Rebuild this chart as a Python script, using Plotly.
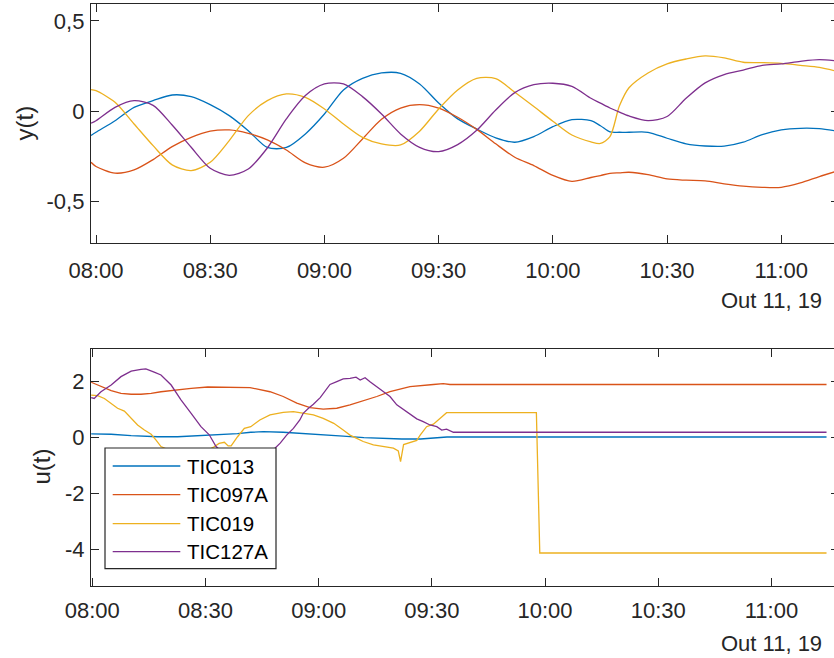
import datetime as dt
import plotly.graph_objects as go

T0 = dt.datetime(2019, 10, 11, 8, 0)

NAMES = ["TIC013", "TIC097A", "TIC019", "TIC127A"]
COLORS = ["#0072BD", "#D95319", "#EDB120", "#7E2F8E"]

# ---- outputs y(t): minutes after 08:00 and the four controlled temperatures
t_y = [-1.3, 0, 5, 10, 15, 20, 25, 30, 35, 40, 45, 50, 55, 60, 65, 70, 75, 80,
       85, 90, 95, 100, 105, 110, 115, 120, 125, 130, 132.5, 135, 137.5, 140,
       145, 150, 155, 160, 165, 170, 175, 180, 185, 190, 194.6]
y_tic013 = [-0.134, -0.116, -0.052, 0.022, 0.059, 0.09, 0.081, 0.037, -0.024,
            -0.107, -0.2, -0.2, -0.125, -0.015, 0.118, 0.182, 0.212, 0.21,
            0.151, 0.046, -0.042, -0.098, -0.147, -0.171, -0.14, -0.085,
            -0.046, -0.052, -0.08, -0.114, -0.116, -0.116, -0.116, -0.149,
            -0.18, -0.192, -0.193, -0.171, -0.129, -0.103, -0.094, -0.096, -0.11]
y_tic097a = [-0.282, -0.305, -0.342, -0.324, -0.267, -0.195, -0.144, -0.11,
             -0.103, -0.122, -0.158, -0.214, -0.285, -0.309, -0.26, -0.153,
             -0.044, 0.018, 0.037, 0.018, -0.033, -0.1, -0.18, -0.254, -0.3,
             -0.354, -0.387, -0.366, -0.355, -0.343, -0.34, -0.337, -0.35,
             -0.374, -0.381, -0.385, -0.401, -0.414, -0.42, -0.42, -0.396,
             -0.361, -0.331]
y_tic019 = [0.12, 0.114, 0.05, -0.07, -0.19, -0.296, -0.328, -0.282, -0.162,
            -0.024, 0.059, 0.096, 0.077, 0.013, -0.07, -0.144, -0.18, -0.186,
            -0.11, 0.013, 0.118, 0.182, 0.18, 0.105, 0.026, -0.055, -0.131,
            -0.169, -0.178, -0.14, 0.03, 0.13, 0.212, 0.262, 0.289, 0.306,
            0.295, 0.271, 0.269, 0.265, 0.254, 0.243, 0.221]
y_tic127a = [-0.066, -0.052, 0.022, 0.059, 0.033, -0.076, -0.199, -0.315,
             -0.354, -0.319, -0.203, -0.042, 0.087, 0.151, 0.151, 0.081,
             -0.015, -0.125, -0.199, -0.223, -0.184, -0.105, 0.007, 0.103,
             0.147, 0.155, 0.138, 0.072, 0.045, 0.018, -0.005, -0.026, -0.052,
             -0.029, 0.072, 0.157, 0.203, 0.228, 0.254, 0.262, 0.276, 0.285,
             0.278]

# ---- inputs u(t): each valve signal with its own sample times (minutes)
t_u013 = [-0.3, 5, 10.3, 17.3, 22.6, 28, 33, 38.5, 42, 45.3, 50.6, 56, 61,
          66.5, 72, 77, 82, 87, 90.4, 94, 194.6]
u_tic013 = [0.13, 0.12, 0.07, 0.03, 0.03, 0.06, 0.09, 0.14, 0.19, 0.21, 0.19,
            0.15, 0.09, 0.05, 0.0, -0.03, -0.05, -0.05, -0.01, 0.02, 0.02]

t_u097a = [-0.3, 2.3, 5, 7.6, 10.3, 12.9, 15.6, 18.2, 21.7, 26.2, 30.6, 35,
           39.4, 41.8, 47.1, 50.6, 54.2, 57.7, 61.2, 64.8, 68.3, 71.8, 75.4,
           78.9, 84.2, 90.4, 93, 94.8, 194.6]
u_tic097a = [1.98, 1.82, 1.68, 1.58, 1.55, 1.55, 1.58, 1.64, 1.70, 1.76, 1.81,
             1.81, 1.79, 1.79, 1.64, 1.47, 1.23, 1.07, 1.02, 1.05, 1.17, 1.31,
             1.47, 1.64, 1.82, 1.9, 1.93, 1.9, 1.9]

t_u019 = [-0.3, 1.4, 3.2, 5, 6.7, 8.5, 10.3, 12, 13.8, 15.6, 16.9, 18.2, 22,
          27, 31, 32.3, 33.6, 35, 36, 36.8, 38.5, 40.3, 42, 44.4, 47.1, 50.6,
          53.3, 55.9, 58.6, 61.2, 64, 66.5, 68.3, 70.1, 71.8, 74.5, 77.1,
          79.8, 81.1, 81.7, 82.5, 84.2, 86, 86.9, 88.6, 90.4, 92.1, 93.9,
          117.7, 118.6, 194.6]
u_tic019 = [1.52, 1.5, 1.4, 1.23, 1.05, 0.95, 0.69, 0.45, 0.27, 0.12, -0.09,
            -0.32, -0.55, -0.6, -0.42, -0.33, -0.21, -0.17, -0.3, -0.3, 0.03,
            0.33, 0.39, 0.63, 0.81, 0.9, 0.93, 0.87, 0.81, 0.69, 0.51, 0.27,
            0.09, -0.03, -0.14, -0.26, -0.32, -0.38, -0.48, -0.86, -0.25,
            -0.18, -0.1, 0.09, 0.39, 0.48, 0.69, 0.89, 0.89, -4.13, -4.13]

t_u127a = [-0.3, 0.5, 2.3, 5, 7.6, 10.3, 12.9, 14.2, 16.4, 18.2, 20.9, 23.5,
           26.2, 28.8, 31, 32.8, 36, 40, 44, 47, 48.4, 49.8, 51.5, 53.3, 55,
           55.9, 57.3, 58.6, 60.4, 62.1, 63, 64.8, 66.5, 68.3, 69.9, 71, 72.3,
           73.6, 75.4, 77.1, 78.9, 80.7, 82.4, 84.2, 86, 87.7, 89.5, 91.3,
           92.6, 93.9, 95.7, 194.6]
u_tic127a = [1.43, 1.4, 1.64, 1.88, 2.18, 2.38, 2.44, 2.46, 2.34, 2.24, 1.88,
             1.35, 0.87, 0.39, 0.1, -0.32, -0.7, -0.8, -0.75, -0.55, -0.38,
             -0.2, 0.09, 0.33, 0.63, 0.87, 1.05, 1.19, 1.43, 1.76, 1.9, 2.0,
             2.1, 2.12, 2.16, 2.06, 2.14, 2.0, 1.82, 1.67, 1.47, 1.17, 1.0,
             0.85, 0.67, 0.57, 0.45, 0.39, 0.27, 0.3, 0.19, 0.19]

y_ticks = [-0.5, 0, 0.5]
y_ticktext = ["-0,5", "0", "0,5"]
u_ticks = [-4, -2, 0, 2]
u_ticktext = ["-4", "-2", "0", "2"]
date_label = "Out 11, 19"

FONT = "Liberation Sans, Arial, sans-serif"
AX = "#262626"
W, H = 834, 658


def clock(minutes):
    return [T0 + dt.timedelta(minutes=m) for m in minutes]


def px(x):
    return x / W


def py(y):
    return 1 - y / H


fig = go.Figure()

for name, color, vals in zip(NAMES, COLORS, [y_tic013, y_tic097a, y_tic019, y_tic127a]):
    fig.add_trace(go.Scatter(x=clock(t_y), y=vals, mode="lines", name=name,
                             line=dict(color=color, width=1.3, shape="spline", smoothing=0.8),
                             showlegend=False, xaxis="x", yaxis="y"))

u_series = [(t_u013, u_tic013), (t_u097a, u_tic097a), (t_u019, u_tic019), (t_u127a, u_tic127a)]
for name, color, (tt, vals) in zip(NAMES, COLORS, u_series):
    fig.add_trace(go.Scatter(x=clock(tt), y=vals, mode="lines", name=name,
                             line=dict(color=color, width=1.3),
                             showlegend=False, xaxis="x2", yaxis="y2"))

# empty traces so the right-hand tick axes of both panels are laid out
for ya, xa in (("y3", "x"), ("y4", "x2")):
    fig.add_trace(go.Scatter(x=[], y=[], mode="lines", showlegend=False,
                             hoverinfo="skip", xaxis=xa, yaxis=ya))

tickfont = dict(family=FONT, size=22, color=AX)
common = dict(showline=True, linecolor=AX, linewidth=1.3, ticks="inside", ticklen=8,
              tickwidth=1.3, tickcolor=AX, showgrid=False, zeroline=False,
              tickfont=tickfont, automargin=False)
right_ticks = dict(showline=False, ticks="inside", ticklen=3, tickwidth=1.3,
                   tickcolor=AX, showgrid=False, zeroline=False,
                   showticklabels=False, side="right", automargin=False)

x_dom = [px(91), 1.0]
top_dom = [py(243), py(4)]
bot_dom = [py(586), py(348.7)]
y_range = [-0.728, 0.593]
u_range = [-5.31, 3.18]

xcommon = dict(common, type="date", tickformat="%H:%M", tick0=T0,
               dtick=30 * 60 * 1000, mirror="ticks")

fig.update_layout(
    width=W, height=H,
    margin=dict(l=0, r=0, t=0, b=0, pad=0),
    paper_bgcolor="white", plot_bgcolor="white",
    font=dict(family=FONT, color=AX),
    showlegend=False,
    xaxis=dict(xcommon, domain=x_dom, anchor="y",
               range=clock([-1.313, 193.85]), ticklabelstandoff=7),
    yaxis=dict(common, domain=top_dom, anchor="x", range=y_range,
               tickvals=y_ticks, ticktext=y_ticktext, ticklabelstandoff=1),
    yaxis3=dict(right_ticks, overlaying="y", anchor="x", range=y_range,
                tickvals=y_ticks),
    xaxis2=dict(xcommon, domain=x_dom, anchor="y2",
                range=clock([-0.345, 196.58]), ticklabelstandoff=4),
    yaxis2=dict(common, domain=bot_dom, anchor="x2", range=u_range,
                tickvals=u_ticks, ticktext=u_ticktext, ticklabelstandoff=1),
    yaxis4=dict(right_ticks, overlaying="y2", anchor="x2", range=u_range,
                tickvals=u_ticks),
)

# axis titles and the date stamp under each time axis
for text, x, y in (("y(t)", 24, 123.5), ("u(t)", 40.5, 467)):
    fig.add_annotation(text=text, xref="paper", yref="paper", showarrow=False,
                       x=px(x), y=py(y), xanchor="center", yanchor="middle",
                       textangle=-90, font=dict(family=FONT, size=24, color=AX))
for ymid in (300, 643):
    fig.add_annotation(text=date_label, xref="paper", yref="paper", showarrow=False,
                       x=px(823.5), y=py(ymid), xanchor="right", yanchor="middle",
                       font=dict(family=FONT, size=22, color=AX))

# boxed legend in the lower panel (opaque, drawn over the lines)
LEG_L, LEG_T, LEG_R, LEG_B = 105, 448, 276, 568.7
fig.add_shape(type="rect", xref="paper", yref="paper", layer="above",
              x0=px(LEG_L), x1=px(LEG_R), y0=py(LEG_B), y1=py(LEG_T),
              fillcolor="white", line=dict(color=AX, width=1.2))
row_y = [466, 494.7, 523.7, 551.7]
for name, color, ry in zip(NAMES, COLORS, row_y):
    fig.add_shape(type="line", xref="paper", yref="paper", layer="above",
                  x0=px(112.7), x1=px(180.3), y0=py(ry), y1=py(ry),
                  line=dict(color=color, width=1.3))
    fig.add_annotation(text=name, xref="paper", yref="paper", showarrow=False,
                       x=px(185), y=py(ry), xanchor="left", yanchor="middle",
                       font=dict(family=FONT, size=20.5, color="#000000"))

fig.write_html("out.html")
